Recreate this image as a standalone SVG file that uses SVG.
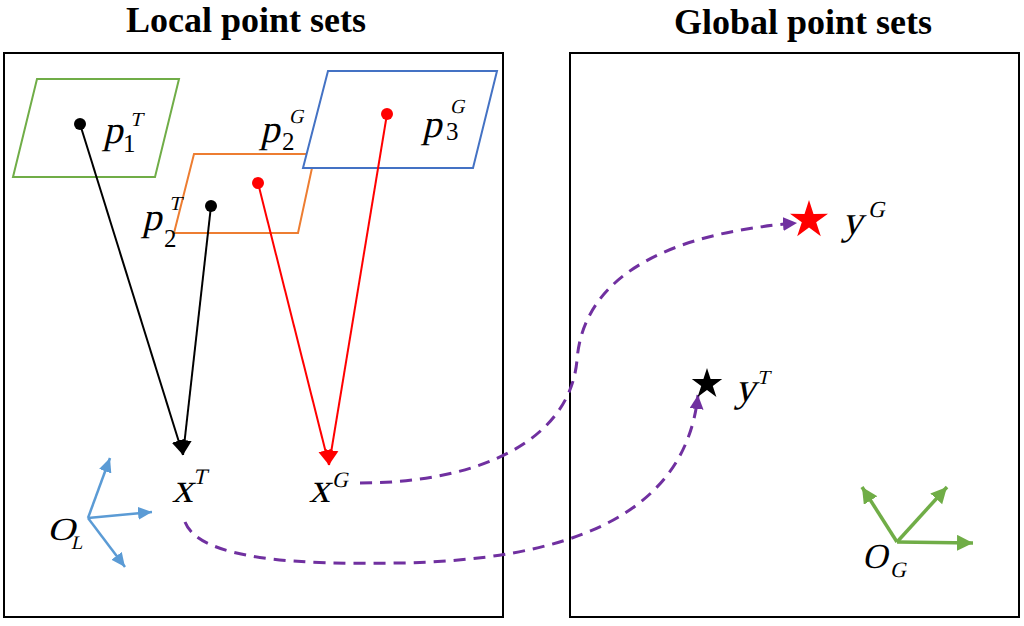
<svg xmlns="http://www.w3.org/2000/svg" width="1024" height="626" viewBox="0 0 1024 626">
<style>
.title{font-family:"Liberation Serif","Times New Roman",serif;font-weight:bold;font-size:36px;fill:#000;text-anchor:middle}
.m{font-family:"Liberation Serif","Times New Roman",serif;fill:#000}
.d{font-family:"Liberation Serif","Times New Roman",serif;fill:#000}
.frame{fill:none;stroke:#000;stroke-width:2}
.dash{fill:none;stroke:#7030A0;stroke-width:3;stroke-dasharray:12 8}
</style>
<defs>
<marker id="ahK" markerUnits="userSpaceOnUse" markerWidth="16" markerHeight="16" refX="15" refY="8" orient="auto"><path d="M0,1 L15,8 L0,15 z" fill="#000"/></marker>
<marker id="ahR" markerUnits="userSpaceOnUse" markerWidth="16" markerHeight="16" refX="15" refY="8" orient="auto"><path d="M0,1 L15,8 L0,15 z" fill="#FF0000"/></marker>
<marker id="ahP" markerUnits="userSpaceOnUse" markerWidth="16" markerHeight="16" refX="14" refY="7" orient="auto"><path d="M0,0 L14,7 L0,14 z" fill="#7030A0"/></marker>
<marker id="ahB" markerUnits="userSpaceOnUse" markerWidth="16" markerHeight="16" refX="14" refY="6.5" orient="auto"><path d="M0,0 L14,6.5 L0,13 z" fill="#5B9BD5"/></marker>
<marker id="ahG" markerUnits="userSpaceOnUse" markerWidth="18" markerHeight="18" refX="16" refY="8" orient="auto"><path d="M0,0 L16,8 L0,16 z" fill="#70AD47"/></marker>
</defs>
<rect width="1024" height="626" fill="#fff"/>
<text class="title" x="246" y="32">Local point sets</text>
<text class="title" x="803" y="34">Global point sets</text>
<rect class="frame" x="4" y="53" width="499" height="564"/>
<rect class="frame" x="570" y="53" width="449" height="564"/>

<g id="plane-p1T">
<polygon points="37,79 179,79 155,177 13,177" fill="#fff" stroke="#70AD47" stroke-width="2"/>
</g>
<g id="plane-p2">
<polygon points="194,154 315,154 298,233 174,233" fill="#fff" stroke="#ED7D31" stroke-width="2"/>
</g>
<g id="plane-p3G">
<polygon points="328,71 497,71 473,168 303,168" fill="#fff" stroke="#4472C4" stroke-width="2"/>
</g>

<g id="connectors">
<line x1="80" y1="124" x2="183" y2="455" stroke="#000" stroke-width="2" marker-end="url(#ahK)"/>
<line x1="211" y1="206" x2="183" y2="455" stroke="#000" stroke-width="2" marker-end="url(#ahK)"/>
<line x1="258" y1="183" x2="329" y2="465" stroke="#FF0000" stroke-width="2" marker-end="url(#ahR)"/>
<line x1="387" y1="114" x2="329" y2="465" stroke="#FF0000" stroke-width="2" marker-end="url(#ahR)"/>
<path class="dash" d="M360,483 C480,483 570,440 577,360 C584,270 680,232 797,223" marker-end="url(#ahP)"/>
<path class="dash" d="M185,522 C200,560 300,565 400,563 C560,560 685,520 698,395" marker-end="url(#ahP)"/>
</g>

<g id="node-p1T">
<circle cx="80" cy="124" r="6" fill="#000"/>
<text class="m" transform="translate(103,143) skewX(-13)" font-size="39">p</text>
<text class="d" x="123" y="152" font-size="25">1</text>
<text class="m" transform="translate(130,126) skewX(-13)" font-size="20">T</text>
</g>
<g id="node-p2T">
<circle cx="211" cy="206" r="6" fill="#000"/>
<text class="m" transform="translate(142,230) skewX(-13)" font-size="39">p</text>
<text class="d" x="164" y="247" font-size="25">2</text>
<text class="m" transform="translate(169,210) skewX(-13)" font-size="20">T</text>
</g>
<g id="node-p2G">
<circle cx="258" cy="183" r="6" fill="#FF0000"/>
<text class="m" transform="translate(260,142) skewX(-13)" font-size="39">p</text>
<text class="d" x="282" y="150" font-size="25">2</text>
<text class="m" transform="translate(289,123) skewX(-13)" font-size="20">G</text>
</g>
<g id="node-p3G">
<circle cx="387" cy="114" r="6" fill="#FF0000"/>
<text class="m" transform="translate(422,137) skewX(-13)" font-size="39">p</text>
<text class="d" x="446" y="140" font-size="25">3</text>
<text class="m" transform="translate(450,113) skewX(-13)" font-size="20">G</text>
</g>
<g id="node-xT">
<text class="m" transform="translate(172,502) skewX(-13)" font-size="42">x</text>
<text class="m" transform="translate(193,484) skewX(-13)" font-size="22">T</text>
</g>
<g id="node-xG">
<text class="m" transform="translate(309,502) skewX(-13)" font-size="42">x</text>
<text class="m" transform="translate(332,487) skewX(-13)" font-size="22">G</text>
</g>
<g id="frame-OL">
<line x1="88" y1="518" x2="110" y2="458" stroke="#5B9BD5" stroke-width="2.5" marker-end="url(#ahB)"/>
<line x1="88" y1="518" x2="152" y2="512" stroke="#5B9BD5" stroke-width="2.5" marker-end="url(#ahB)"/>
<line x1="88" y1="518" x2="125" y2="567" stroke="#5B9BD5" stroke-width="2.5" marker-end="url(#ahB)"/>
<text class="m" transform="translate(47,540) scale(1.2,1) skewX(-13)" font-size="32">O</text>
<text class="m" transform="translate(71,549) skewX(-13)" font-size="19">L</text>
</g>
<g id="node-yG">
<polygon points="809,200 813.5,213.9 828,213.8 816.2,222.3 820.8,236.2 809,227.6 797.2,236.2 801.8,222.3 790,213.8 804.5,213.9" fill="#FF0000"/>
<text class="m" transform="translate(842,234) skewX(-13)" font-size="41">y</text>
<text class="m" transform="translate(868,217) skewX(-13)" font-size="23">G</text>
</g>
<g id="node-yT">
<polygon points="707,368 710.6,379.1 722.2,379.1 712.8,385.9 716.4,396.9 707,390.1 697.6,396.9 701.2,385.9 691.8,379.1 703.4,379.1" fill="#000"/>
<text class="m" transform="translate(735,401) skewX(-13)" font-size="41">y</text>
<text class="m" transform="translate(757,384) skewX(-13)" font-size="20">T</text>
</g>
<g id="frame-OG">
<line x1="897" y1="542" x2="862" y2="487" stroke="#70AD47" stroke-width="3.5" marker-end="url(#ahG)"/>
<line x1="897" y1="542" x2="947" y2="487" stroke="#70AD47" stroke-width="3.5" marker-end="url(#ahG)"/>
<line x1="897" y1="542" x2="973" y2="543" stroke="#70AD47" stroke-width="3.5" marker-end="url(#ahG)"/>
<text class="m" transform="translate(862,568) skewX(-13)" font-size="35">O</text>
<text class="m" transform="translate(890,577) skewX(-13)" font-size="22">G</text>
</g>
</svg>
